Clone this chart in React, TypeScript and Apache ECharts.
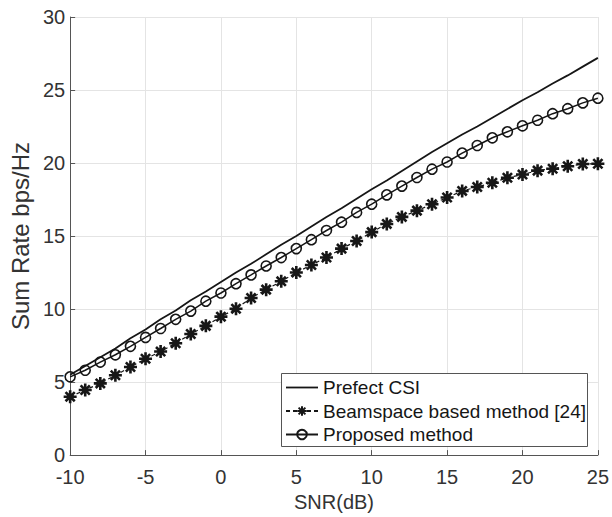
import React, { useEffect, useRef } from "react";
import * as echarts from "echarts";

const snr = [-10, -9, -8, -7, -6, -5, -4, -3, -2, -1, 0, 1, 2, 3, 4, 5, 6, 7, 8, 9, 10, 11, 12, 13, 14, 15, 16, 17, 18, 19, 20, 21, 22, 23, 24, 25];

const perfectCSI = [5.5, 6.1, 6.7, 7.3, 8.0, 8.6, 9.3, 9.9, 10.6, 11.2, 11.85, 12.5, 13.1, 13.75, 14.4, 15.0, 15.65, 16.3, 16.9, 17.55, 18.2, 18.8, 19.45, 20.1, 20.75, 21.35, 21.95, 22.5, 23.1, 23.7, 24.3, 24.85, 25.45, 26.0, 26.6, 27.2];

const beamspace = [4.0, 4.46, 4.91, 5.47, 6.03, 6.6, 7.09, 7.66, 8.29, 8.85, 9.48, 10.02, 10.76, 11.33, 11.9, 12.5, 13.02, 13.53, 14.14, 14.66, 15.27, 15.83, 16.31, 16.74, 17.18, 17.64, 18.09, 18.36, 18.65, 18.99, 19.21, 19.48, 19.61, 19.78, 19.93, 19.95];

const proposed = [5.36, 5.81, 6.37, 6.87, 7.45, 8.06, 8.67, 9.3, 9.86, 10.54, 11.1, 11.74, 12.34, 12.95, 13.53, 14.14, 14.75, 15.38, 15.95, 16.62, 17.18, 17.82, 18.42, 19.01, 19.58, 20.07, 20.68, 21.2, 21.73, 22.14, 22.55, 22.93, 23.38, 23.72, 24.12, 24.44];

const seriesNames = ["Prefect CSI", "Beamspace based method [24]", "Proposed method"];
const xTicks = { min: -10, max: 25, step: 5 };
const yTicks = { min: 0, max: 30, step: 5 };

const FONT = "Liberation Sans, Arial, sans-serif";
const INK = "#161616";

const starPath = "path://M5,0 L5,10 M0,5 L10,5 M1.46,1.46 L8.54,8.54 M1.46,8.54 L8.54,1.46";
const lineIcon = "path://M0,0 L32,0 L32,1.8 L0,1.8 Z";

export default function App() {
  const ref = useRef<HTMLDivElement>(null);

  useEffect(() => {
    if (!ref.current) return;
    const chart = echarts.init(ref.current, undefined, { renderer: "svg" });
    const pairs = (vals: number[]) => snr.map((x, i) => [x, vals[i]]);
    chart.setOption({
      animation: false,
      backgroundColor: "#ffffff",
      grid: { left: 57, right: 11, top: 17, bottom: 56, containLabel: false },
      xAxis: {
        type: "value",
        min: xTicks.min,
        max: xTicks.max,
        interval: xTicks.step,
        name: "SNR(dB)",
        nameLocation: "middle",
        nameGap: 31,
        nameTextStyle: { fontFamily: FONT, fontSize: 20, color: "#333" },
        axisLine: { onZero: false, lineStyle: { color: "#555", width: 1 } },
        axisTick: { inside: true, length: 5, lineStyle: { color: "#555" } },
        axisLabel: { fontFamily: FONT, fontSize: 20, color: "#333", margin: 12 },
        splitLine: { show: true, lineStyle: { color: "#e4e4e4", width: 1 } },
      },
      yAxis: {
        type: "value",
        min: yTicks.min,
        max: yTicks.max,
        interval: yTicks.step,
        name: "Sum Rate bps/Hz",
        nameLocation: "middle",
        nameGap: 29,
        nameTextStyle: { fontFamily: FONT, fontSize: 24, color: "#333" },
        axisLine: { show: true, onZero: false, lineStyle: { color: "#555", width: 1 } },
        axisTick: { show: true, inside: true, length: 5, lineStyle: { color: "#555" } },
        axisLabel: { fontFamily: FONT, fontSize: 20, color: "#333", margin: 5 },
        splitLine: { show: true, lineStyle: { color: "#e4e4e4", width: 1 } },
      },
      graphic: [
        {
          type: "rect",
          z: 3,
          shape: { x: 281.5, y: 373.5, width: 306, height: 73 },
          style: { fill: "#ffffff", stroke: "#555", lineWidth: 1 },
          silent: true,
        },
      ],
      legend: {
        orient: "vertical",
        left: 281,
        top: 373,
        z: 4,
        padding: [5, 3, 3, 4],
        itemWidth: 32,
        itemHeight: 12,
        itemGap: 4.5,
        itemTextGap: 3,
        backgroundColor: "transparent",
        borderWidth: 0,
        textStyle: { fontFamily: FONT, fontSize: 19, color: INK, lineHeight: 19 },
        data: [
          { name: seriesNames[0], icon: lineIcon },
          { name: seriesNames[1] },
          { name: seriesNames[2] },
        ],
      },
      series: [
        {
          name: seriesNames[0],
          type: "line",
          data: pairs(perfectCSI),
          symbol: "none",
          lineStyle: { color: INK, width: 1.8 },
          itemStyle: { color: INK },
          z: 2,
        },
        {
          name: seriesNames[1],
          type: "line",
          data: pairs(beamspace),
          symbol: starPath,
          symbolSize: 13,
          lineStyle: { color: INK, width: 1.2, type: [4, 3] },
          itemStyle: { color: "none", borderColor: INK, borderWidth: 2.6 },
          z: 2,
        },
        {
          name: seriesNames[2],
          type: "line",
          data: pairs(proposed),
          symbol: "circle",
          symbolSize: 10,
          lineStyle: { color: INK, width: 1.5 },
          itemStyle: { color: "transparent", borderColor: INK, borderWidth: 1.6 },
          z: 2,
        },
      ],
    });
    return () => chart.dispose();
  }, []);

  return <div ref={ref} style={{ width: 612, height: 517, position: "absolute", left: 0, top: 0 }} />;
}
